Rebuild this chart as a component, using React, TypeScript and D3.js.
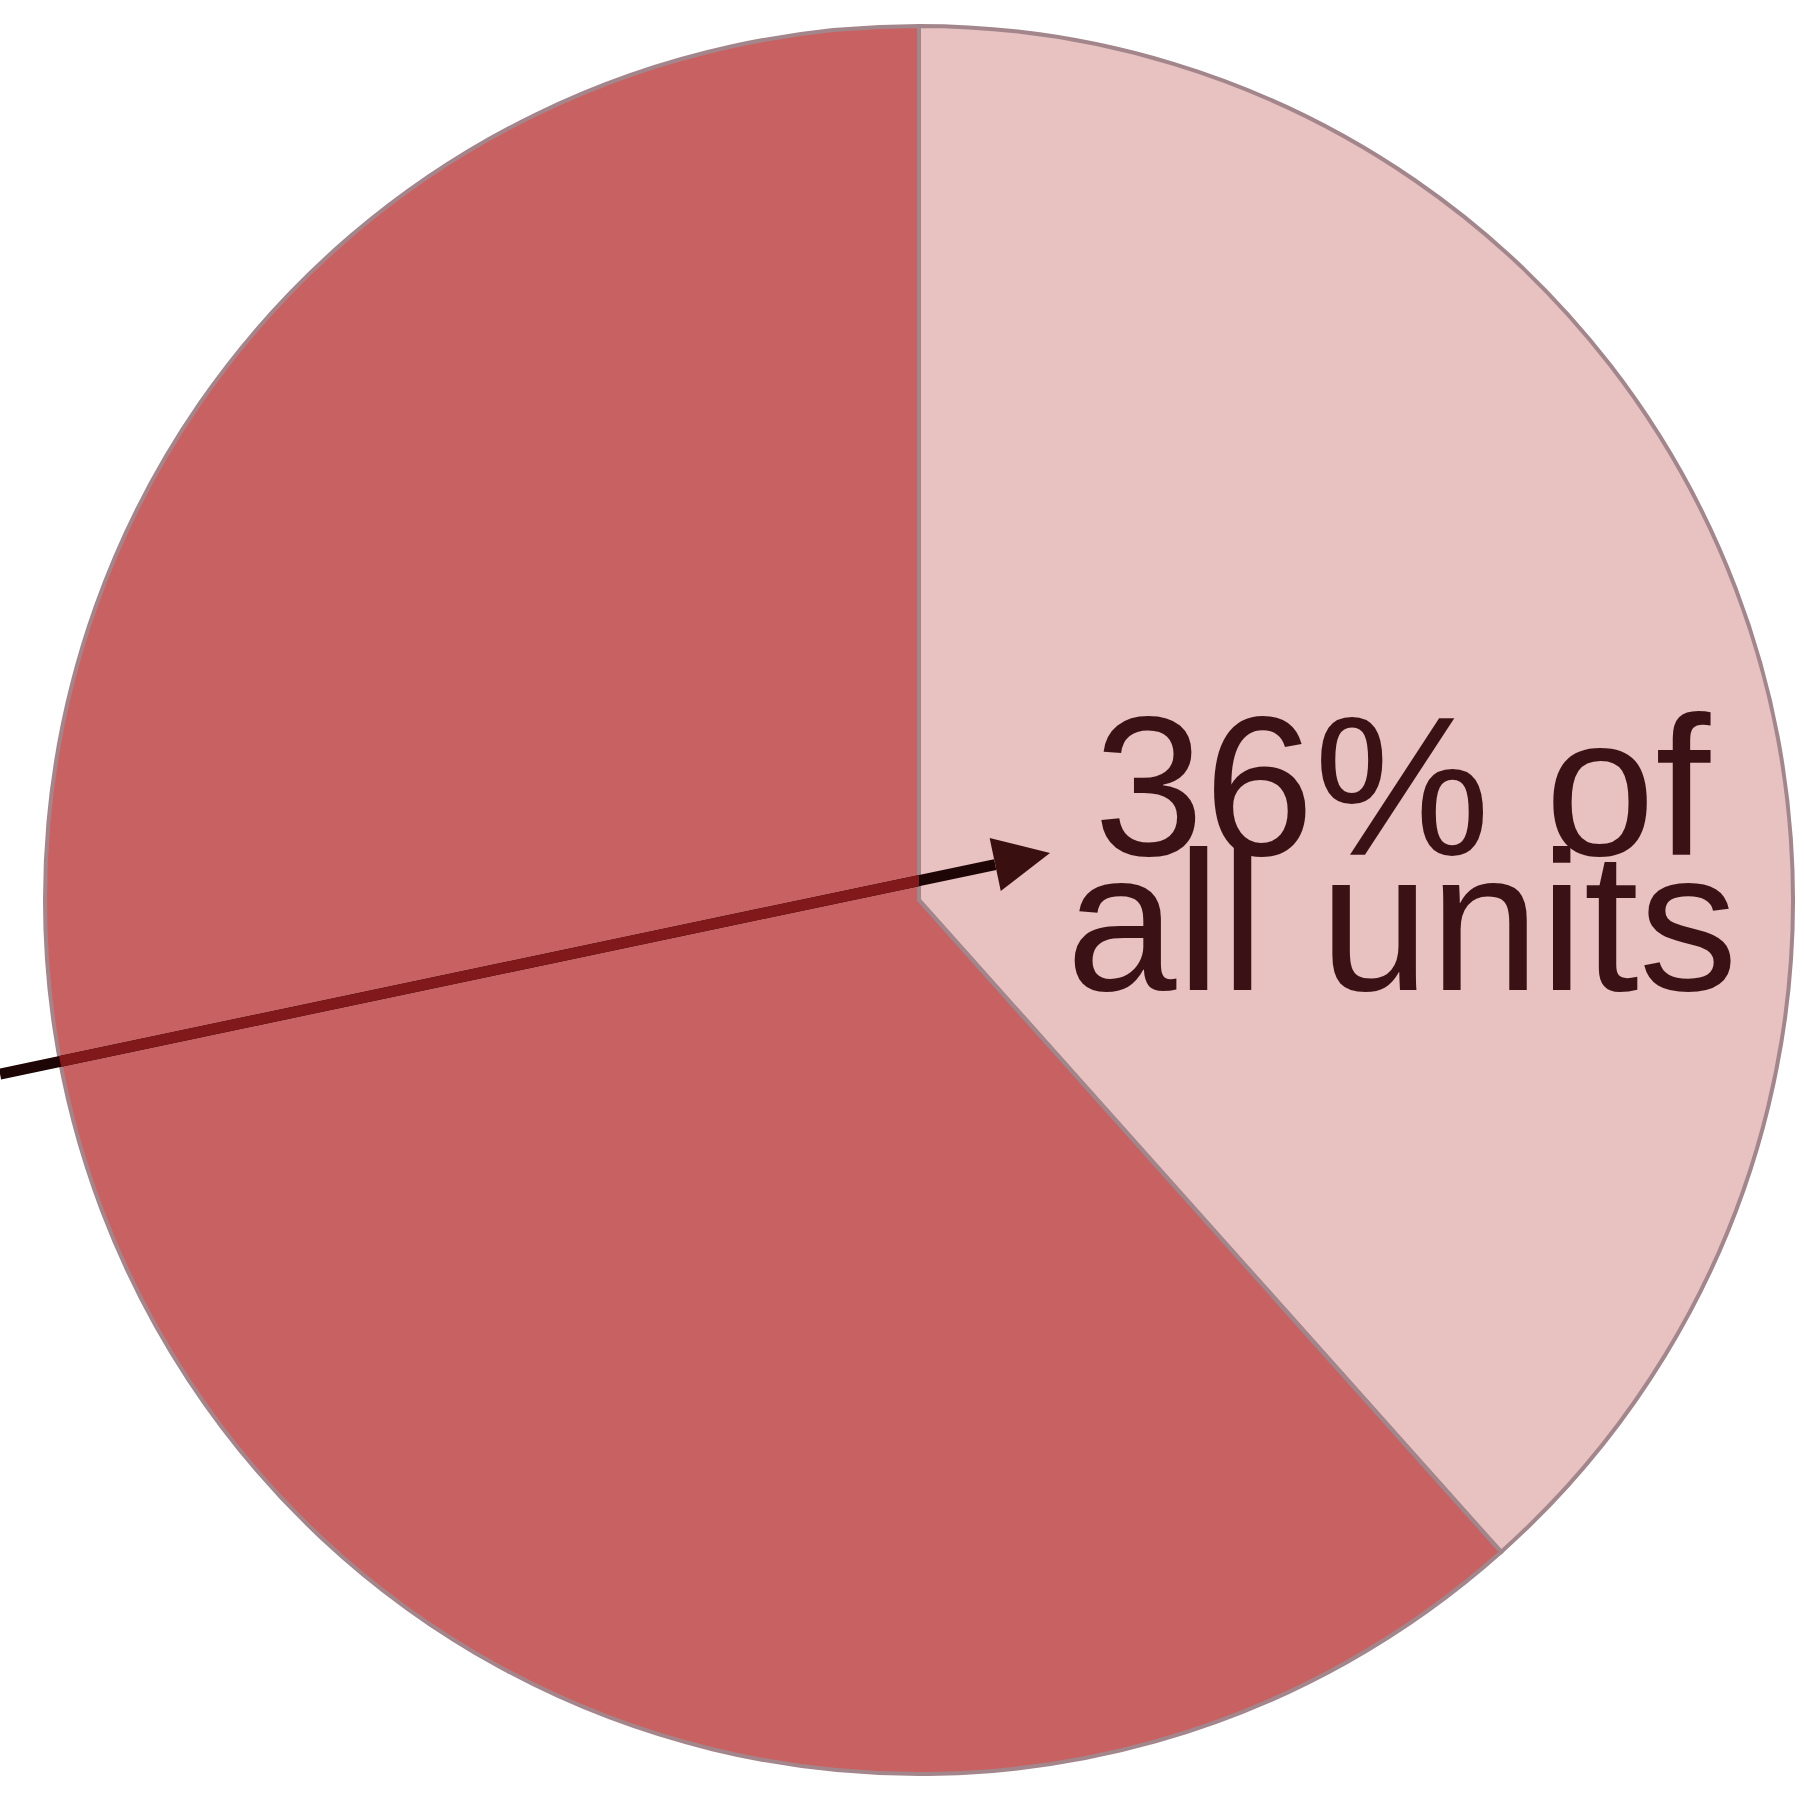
import React from 'react';
import * as d3 from 'd3';

// share of units
const categories = ['Share', 'Rest'];
const values = [38.4, 61.6];
const sliceColors = ['#e8c1c1', '#c86262'];
const labelLines = ['36% of', 'all units'];

const settings = {
  width: 1804,
  height: 1799,
  cx: 919,
  cy: 900,
  radius: 874
};

export default function App() {
  const { width, height, cx, cy, radius } = settings;

  const pie = d3.pie<number>().sort(null).startAngle(0).endAngle(2 * Math.PI);
  const arcs = pie(values);
  const arc = d3.arc<d3.PieArcDatum<number>>().innerRadius(0).outerRadius(radius);

  // arrow from the left edge into the light slice
  const start: [number, number] = [0, 1074];
  const tip: [number, number] = [1050, 853];
  const headLen = 56;
  const ang = Math.atan2(tip[1] - start[1], tip[0] - start[0]);
  const base: [number, number] = [tip[0] - headLen * Math.cos(ang), tip[1] - headLen * Math.sin(ang)];
  const arrowPath = d3.line()([start, base]) || '';
  const half = 27;
  const head = d3.line()([
    tip,
    [base[0] + half * Math.sin(ang), base[1] - half * Math.cos(ang)],
    [base[0] - half * Math.sin(ang), base[1] + half * Math.cos(ang)]
  ]) + 'Z';

  const labelX = 1402;
  const fontSize = 198;

  return (
    <svg
      width={width}
      height={height}
      style={{ position: 'absolute', left: 0, top: 0, background: '#fff' }}
    >
      <defs>
        <clipPath id="darkSlice">
          <path d={arc(arcs[1]) || ''} transform={`translate(${cx},${cy})`} />
        </clipPath>
      </defs>
      <g transform={`translate(${cx},${cy})`}>
        {arcs.map((a, i) => (
          <path
            key={categories[i]}
            d={arc(a) || ''}
            fill={sliceColors[i]}
            stroke="#a3868c"
            strokeWidth={4}
          />
        ))}
      </g>
      <path d={arrowPath} stroke="#1e0606" strokeWidth={11} fill="none" />
      <path d={arrowPath} stroke="#81181a" strokeWidth={11} fill="none" clipPath="url(#darkSlice)" />
      <path d={head} fill="#3a0f10" />
      {labelLines.map((t, i) => (
        <text
          key={t}
          x={labelX}
          y={855 + i * 135}
          textAnchor="middle"
          fontFamily="'Liberation Sans', Arial, sans-serif"
          fontSize={fontSize}
          fill="#3a1215"
        >
          {t}
        </text>
      ))}
    </svg>
  );
}
